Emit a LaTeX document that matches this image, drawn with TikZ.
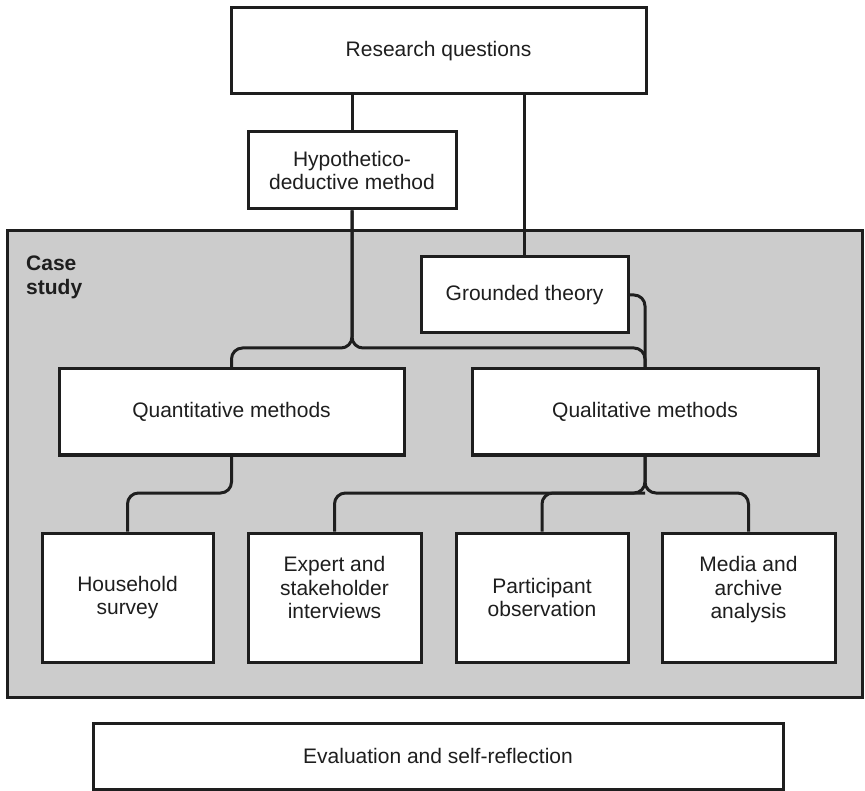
\documentclass[tikz,border=0pt]{standalone}
\usepackage{fontspec}
\setmainfont{Liberation Sans}
\definecolor{casegray}{HTML}{CCCCCC}
\definecolor{ink}{HTML}{1E1E1E}
\begin{document}
\begin{tikzpicture}[x=1pt,y=-1pt,
  box/.style={draw=ink, line width=3pt, fill=white, text=ink, align=center,
    inner sep=0pt, font=\fontsize{21}{23.5}\selectfont},
  threeline/.style={text depth=20pt},
  conn/.style={draw=ink, line width=3pt, rounded corners=11pt}]
\useasboundingbox (0,0) rectangle (865,791);

% case study frame
\draw[draw=ink, line width=3pt, fill=casegray] (7,231) rectangle (862,697);
\node[anchor=north west, align=left, text=ink, inner sep=0pt,
  font=\fontsize{21}{24}\selectfont\bfseries] (case) at (26,256) {Case\\study};

% boxes
\node[box, minimum width=415pt, minimum height=86pt] (rq) at (438.5,51) {Research questions};
\node[box, minimum width=208pt, minimum height=77pt] (hypo) at (352,170.5) {Hypothetico-\\deductive method};
\node[box, minimum width=207pt, minimum height=76pt] (gt) at (524.5,295) {Grounded theory};
\node[box, minimum width=345pt, minimum height=86pt] (quant) at (231.5,412) {Quantitative methods};
\node[box, minimum width=346pt, minimum height=86pt] (qual) at (645,412) {Qualitative methods};
\node[box, minimum width=171pt, minimum height=129pt] (house) at (127.5,597.5) {Household\\survey};
\node[box, threeline, minimum width=173pt, minimum height=129pt] (expert) at (334.5,597.5) {Expert and\\stakeholder\\interviews};
\node[box, minimum width=172pt, minimum height=129pt] (part) at (542,597.5) {Participant\\observation};
\node[box, threeline, minimum width=173pt, minimum height=129pt] (media) at (748.5,597.5) {Media and\\archive\\analysis};
\node[box, minimum width=690pt, minimum height=66pt] (eval) at (438,756) {Evaluation and self-reflection};

% junction points of the connectors
\coordinate (j1) at (352,348);
\coordinate (j2) at (231.5,493);
\coordinate (j3) at (645,493);

% connectors
\draw[conn] (rq.south -| hypo.north) -- (hypo.north);
\draw[conn] (rq.south -| gt.north) -- (gt.north);
\draw[conn] (hypo.south) -- (j1) -- (j1 -| quant.north) -- (quant.north);
\draw[conn] (hypo.south) -- (j1) -- (j1 -| qual.north) -- (qual.north);
\draw[conn] (gt.east) -- (gt.east -| qual.north) -- (qual.north);
\draw[conn] (quant.south) -- (j2) -- (j2 -| house.north) -- (house.north);
\draw[conn] (qual.south) -- (j3) -- (j3 -| expert.north) -- (expert.north);
\draw[conn] (qual.south) -- (j3) -- (j3 -| media.north) -- (media.north);
\draw[conn] (part.north) -- (part.north |- j3) -- (j3);
\end{tikzpicture}
\end{document}
